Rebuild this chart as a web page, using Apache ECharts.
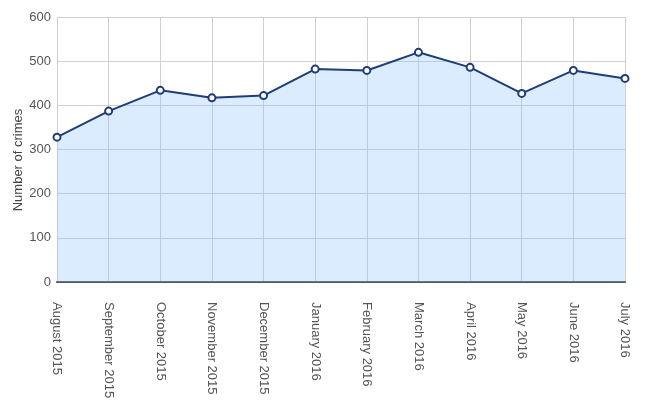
<!DOCTYPE html>
<html><head><meta charset="utf-8">
<script src="https://cdn.jsdelivr.net/npm/echarts@6/dist/echarts.min.js"></script>
<style>html,body{margin:0;padding:0;background:#fff}#c{width:648px;height:410px}</style>
</head><body><div id="c"></div>
<script>
const categories = ["August 2015","September 2015","October 2015","November 2015","December 2015","January 2016","February 2016","March 2016","April 2016","May 2016","June 2016","July 2016"];
const crimes = [328, 387, 434, 417, 422, 482, 479, 520, 486, 427, 479, 461];
const yTicks = [0, 100, 200, 300, 400, 500, 600];
const yTitle = 'Number of crimes';

const chart = echarts.init(document.getElementById('c'));
chart.setOption({
  animation: false,
  grid: { left: 57, right: 23, top: 17, bottom: 128, containLabel: false },
  graphic: [{
    type: 'text', x: 18, y: 160, rotation: Math.PI / 2,
    style: { text: yTitle, fill: '#444', font: '13px Arial, "Liberation Sans"', align: 'center', verticalAlign: 'middle' }
  }],
  xAxis: {
    type: 'category', data: categories, boundaryGap: false,
    axisLine: { show: true, lineStyle: { color: '#555', width: 2 } },
    axisTick: { show: false },
    axisLabel: { rotate: -90, color: '#555', fontFamily: 'Arial, Liberation Sans', fontSize: 13, margin: 20, interval: 0 },
    splitLine: { show: true, lineStyle: { color: '#d0d0d0', width: 1 } }
  },
  yAxis: {
    type: 'value', min: 0, max: 600, interval: 100,
    axisLine: { show: false }, axisTick: { show: false },
    axisLabel: { color: '#555', fontFamily: 'Arial, Liberation Sans', fontSize: 13, margin: 6,
      formatter: v => yTicks.includes(v) ? String(v) : '' },
    splitLine: { lineStyle: { color: '#d0d0d0', width: 1 } }
  },
  series: [{
    type: 'line', data: crimes,
    symbol: 'circle', symbolSize: 7,
    itemStyle: { color: '#fff', borderColor: '#1f3d78', borderWidth: 2 },
    lineStyle: { color: '#1f3d78', width: 2 },
    areaStyle: { color: 'rgba(140,195,250,0.45)', origin: 'start' },
    z: 3
  }]
});
</script></body></html>
